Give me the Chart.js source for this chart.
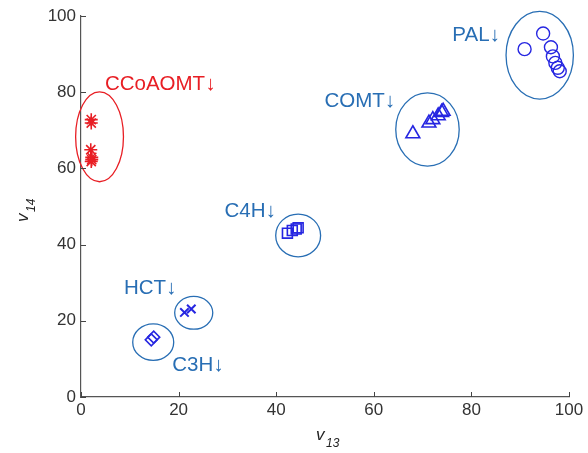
<!DOCTYPE html>
<html>
<head>
<meta charset="utf-8">
<script src="https://cdn.jsdelivr.net/npm/chart.js@4"></script>
<style>
  html, body { margin: 0; padding: 0; background: #fff; }
  #wrap { width: 588px; height: 453px; }
</style>
</head>
<body>
<div id="wrap"><canvas id="scatterChart"></canvas></div>
<script>
// group names shown next to each cluster
const groupNames = ['CCoAOMT↓', 'PAL↓', 'COMT↓', 'C4H↓', 'HCT↓', 'C3H↓'];

// point values (v13, v14)
const ccoaomtX = [2.1, 2.1, 2.0, 2.2, 2.1, 2.2];
const ccoaomtY = [72.8, 71.9, 64.9, 62.9, 61.8, 62.3];
const palX = [90.9, 94.7, 96.3, 96.7, 97.2, 97.7, 98.1];
const palY = [91.3, 95.4, 91.8, 89.4, 87.7, 86.4, 85.5];
const comtX = [68.0, 71.3, 72.1, 73.2, 73.9, 74.2];
const comtY = [69.1, 71.9, 72.8, 73.8, 74.7, 75.0];
const c4hX = [42.3, 43.3, 44.1, 44.5];
const c4hY = [43.0, 43.7, 44.1, 44.4];
const hctX = [21.2, 22.6];
const hctY = [22.2, 23.1];
const c3hX = [14.4, 14.9];
const c3hY = [15.0, 15.7];

// ellipses around the clusters: centre and radii in axis units
const ellipseCx = [3.8, 94.0, 71.0, 44.5, 23.1, 14.8];
const ellipseCy = [68.3, 89.7, 70.2, 42.4, 22.1, 14.4];
const ellipseRx = [4.9, 6.9, 6.5, 4.6, 3.9, 4.2];
const ellipseRy = [11.8, 11.5, 9.6, 5.6, 4.3, 4.8];

// label anchors (left edge, middle) in axis units
const labelX = [4.9, 76.1, 49.9, 29.4, 8.8, 18.7];
const labelY = [82.0, 94.8, 77.6, 48.7, 28.6, 8.2];

const tickValues = [0, 20, 40, 60, 80, 100];

const red = 'rgb(232, 30, 36)';
const markBlue = 'rgb(38, 38, 225)';
const ringBlue = 'rgb(40, 110, 180)';
const groupColors = [red, ringBlue, ringBlue, ringBlue, ringBlue, ringBlue];

function toPoints(xs, ys) {
    const pts = [];
    for (let i = 0; i < xs.length; i++) {
        pts.push({ x: xs[i], y: ys[i] });
    }
    return pts;
}

function makeSet(xs, ys, style, radius, color, lw) {
    return {
        data: toPoints(xs, ys),
        pointStyle: style,
        pointRadius: radius,
        pointHoverRadius: radius,
        borderColor: color,
        backgroundColor: 'rgba(0,0,0,0)',
        pointBorderWidth: lw,
        showLine: false
    };
}

// rings, inward ticks, group labels and axis titles
const extrasPlugin = {
    id: 'extras',
    afterDatasetsDraw(chart) {
        const ctx = chart.ctx;
        const xs = chart.scales.x;
        const ys = chart.scales.y;
        ctx.save();

        for (let i = 0; i < ellipseCx.length; i++) {
            const cx = xs.getPixelForValue(ellipseCx[i]);
            const cy = ys.getPixelForValue(ellipseCy[i]);
            const rx = xs.getPixelForValue(ellipseCx[i] + ellipseRx[i]) - cx;
            const ry = cy - ys.getPixelForValue(ellipseCy[i] + ellipseRy[i]);
            ctx.beginPath();
            ctx.ellipse(cx, cy, rx, ry, 0, 0, Math.PI * 2);
            ctx.strokeStyle = groupColors[i];
            ctx.lineWidth = 1.3;
            ctx.stroke();
        }

        ctx.font = '20.5px "Liberation Sans", Arial, sans-serif';
        ctx.textAlign = 'left';
        ctx.textBaseline = 'middle';
        for (let i = 0; i < groupNames.length; i++) {
            ctx.fillStyle = groupColors[i];
            ctx.fillText(groupNames[i], xs.getPixelForValue(labelX[i]), ys.getPixelForValue(labelY[i]));
        }

        // inward tick marks
        ctx.strokeStyle = '#444';
        ctx.lineWidth = 1;
        const bottom = ys.getPixelForValue(0);
        const left = xs.getPixelForValue(0);
        tickValues.forEach(v => {
            const px = Math.round(xs.getPixelForValue(v)) + 0.5;
            ctx.beginPath();
            ctx.moveTo(px, bottom);
            ctx.lineTo(px, bottom - 5);
            ctx.stroke();
            const py = Math.round(ys.getPixelForValue(v)) + 0.5;
            ctx.beginPath();
            ctx.moveTo(left, py);
            ctx.lineTo(left + 5, py);
            ctx.stroke();
        });

        // axis titles with subscripts
        ctx.fillStyle = '#222';
        ctx.textBaseline = 'alphabetic';
        ctx.font = 'italic 17px "Liberation Sans", Arial, sans-serif';
        ctx.fillText('v', 316, 440);
        ctx.font = 'italic 12px "Liberation Sans", Arial, sans-serif';
        ctx.fillText('13', 326, 447);

        ctx.translate(28, 222);
        ctx.rotate(-Math.PI / 2);
        ctx.font = 'italic 17px "Liberation Sans", Arial, sans-serif';
        ctx.fillText('v', 0, 0);
        ctx.font = 'italic 12px "Liberation Sans", Arial, sans-serif';
        ctx.fillText('14', 10, 7);
        ctx.restore();
    }
};

const ctx = document.getElementById('scatterChart').getContext('2d');
const myChart = new Chart(ctx, {
    type: 'scatter',
    data: {
        datasets: [
            makeSet(ccoaomtX, ccoaomtY, 'star', 6.5, red, 1.6),
            makeSet(palX, palY, 'circle', 6.5, markBlue, 1.4),
            makeSet(comtX, comtY, 'triangle', 8, markBlue, 1.6),
            makeSet(c4hX, c4hY, 'rect', 7, markBlue, 1.6),
            makeSet(hctX, hctY, 'crossRot', 6, markBlue, 2),
            makeSet(c3hX, c3hY, 'rectRot', 6, markBlue, 1.6)
        ]
    },
    options: {
        responsive: true,
        maintainAspectRatio: false,
        animation: false,
        layout: { padding: { top: 16, right: 19, left: 0, bottom: 0 } },
        plugins: {
            legend: { display: false },
            tooltip: { enabled: false }
        },
        scales: {
            x: {
                type: 'linear',
                min: 0,
                max: 100,
                afterFit(scale) { scale.height = 56; },
                afterBuildTicks(scale) { scale.ticks = tickValues.map(v => ({ value: v })); },
                grid: { display: false, drawTicks: false },
                border: { display: true, color: '#555', width: 1.2 },
                ticks: {
                    padding: 3,
                    color: '#333',
                    font: { family: '"Liberation Sans", Arial, sans-serif', size: 17 }
                }
            },
            y: {
                type: 'linear',
                min: 0,
                max: 100,
                afterFit(scale) { scale.width = 81; },
                afterBuildTicks(scale) { scale.ticks = tickValues.map(v => ({ value: v })); },
                grid: { display: false, drawTicks: false },
                border: { display: true, color: '#555', width: 1.2 },
                ticks: {
                    padding: 5,
                    color: '#333',
                    font: { family: '"Liberation Sans", Arial, sans-serif', size: 17 }
                }
            }
        }
    },
    plugins: [extrasPlugin]
});
</script>
</body>
</html>
